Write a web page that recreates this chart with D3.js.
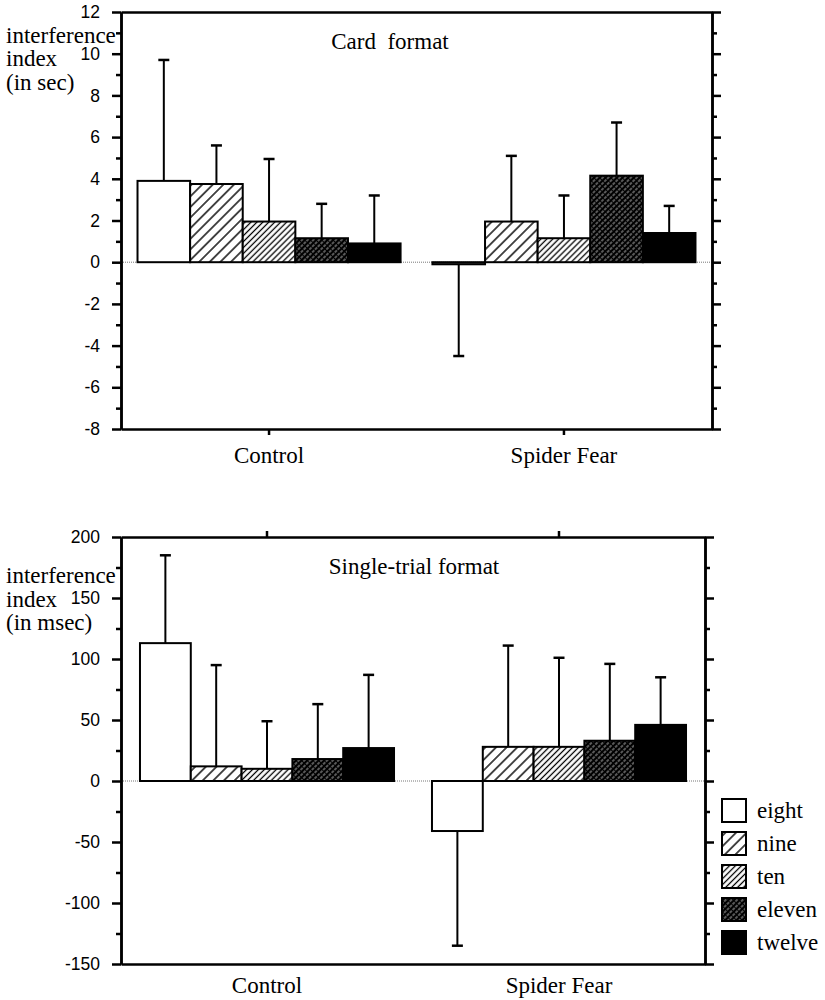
<!DOCTYPE html>
<html><head><meta charset="utf-8">
<script src="https://cdn.jsdelivr.net/npm/d3@7"></script>
<style>
body{margin:0;background:#fff;}
svg{display:block;}
</style></head>
<body>
<svg id="chart" width="825" height="1000"></svg>
<script>
// ---- data ----
const categories = ["Control", "Spider Fear"];
const series = ["eight", "nine", "ten", "eleven", "twelve"];

// Card format (sec): bar means and error-bar end values
const cardControlMean = [3.9, 3.75, 1.95, 1.15, 0.9];
const cardControlErrEnd = [9.7, 5.6, 4.95, 2.8, 3.2];
const cardSpiderMean = [-0.1, 1.95, 1.15, 4.15, 1.4];
const cardSpiderErrEnd = [-4.5, 5.1, 3.2, 6.7, 2.7];
const cardTicks = [-8, -6, -4, -2, 0, 2, 4, 6, 8, 10, 12];
const cardMinor = [-7, -5, -3, -1, 1, 3, 5, 7, 9, 11];

// Single-trial format (msec)
const trialControlMean = [113, 12, 10, 18, 27];
const trialControlErrEnd = [185, 95, 49, 63, 87];
const trialSpiderMean = [-41, 28, 28, 33, 46];
const trialSpiderErrEnd = [-135, 111, 101, 96, 85];
const trialTicks = [-150, -100, -50, 0, 50, 100, 150, 200];
const trialMinor = [-125, -75, -25, 25, 75, 125, 175];

const SERIF = "Liberation Serif";
const SANS = "Liberation Sans";

const svg = d3.select("#chart");

// ---- patterns ----
const defs = svg.append("defs");
function hatch(id, spacing, bg, fg, sw, dash) {
  const p = defs.append("pattern").attr("id", id)
    .attr("patternUnits", "userSpaceOnUse")
    .attr("width", spacing).attr("height", spacing)
    .attr("patternTransform", "rotate(45)");
  p.append("rect").attr("width", spacing).attr("height", spacing).attr("fill", bg);
  const l = p.append("line").attr("x1", spacing / 2).attr("x2", spacing / 2)
    .attr("y1", 0).attr("y2", spacing)
    .attr("stroke", fg).attr("stroke-width", sw);
  if (dash) l.attr("stroke-dasharray", dash);
}
hatch("pNine", 7.5, "#fff", "#000", 1.4);
hatch("pTen", 4.2, "#fff", "#000", 1.3);
hatch("pEleven", 4, "#000", "#fff", 0.7, "3,1");
const fills = ["#fff", "url(#pNine)", "url(#pTen)", "url(#pEleven)", "#000"];

function drawChart(cfg) {
  const g = svg.append("g");
  const y = d3.scaleLinear().domain(cfg.domain).range([cfg.bottom, cfg.top]);
  const x = d3.scaleBand().domain(categories).range([cfg.left, cfg.right])
    .paddingInner(cfg.pi).paddingOuter(cfg.po);
  const xs = d3.scaleBand().domain(series).range([0, x.bandwidth()]);

  // zero line
  g.append("line").attr("x1", cfg.left).attr("x2", cfg.right)
    .attr("y1", y(0)).attr("y2", y(0))
    .attr("stroke", "#777").attr("stroke-width", 1).attr("stroke-dasharray", "1,1");

  // bars
  cfg.groups.forEach((grp, gi) => {
    const cat = categories[gi];
    const gg = g.append("g").attr("transform", `translate(${x(cat)},0)`);
    series.forEach((s, i) => {
      const v = grp.mean[i], e = grp.err[i];
      const cx = xs(s) + xs.bandwidth() / 2;
      gg.append("line").attr("x1", cx).attr("x2", cx)
        .attr("y1", y(v)).attr("y2", y(e))
        .attr("stroke", "#000").attr("stroke-width", 2);
      gg.append("line").attr("x1", cx - 5.5).attr("x2", cx + 5.5)
        .attr("y1", y(e)).attr("y2", y(e))
        .attr("stroke", "#000").attr("stroke-width", 2.5);
      gg.append("rect")
        .attr("x", xs(s)).attr("width", xs.bandwidth())
        .attr("y", Math.min(y(v), y(0))).attr("height", Math.abs(y(v) - y(0)))
        .attr("fill", fills[i]).attr("stroke", "#000").attr("stroke-width", 2);
    });
  });

  const styleAxis = sel => {
    sel.attr("font-family", SANS);
    sel.selectAll("path.domain").attr("stroke", "#000").attr("stroke-width", 2.5);
    sel.selectAll(".tick line").attr("stroke", "#000").attr("stroke-width", 2.5);
    sel.selectAll(".tick text").attr("font-family", SANS).attr("font-size", 17.5).attr("fill", "#000");
  };
  // left axis
  g.append("g").attr("transform", `translate(${cfg.left},0)`)
    .call(d3.axisLeft(y).tickValues(cfg.ticks).tickSize(9).tickSizeOuter(0).tickPadding(12)
      .tickFormat(d => String(d)))
    .call(styleAxis);
  g.append("g").attr("transform", `translate(${cfg.left},0)`)
    .call(d3.axisLeft(y).tickValues(cfg.minor).tickSize(5).tickSizeOuter(0).tickFormat(""))
    .call(styleAxis);
  // right axis
  g.append("g").attr("transform", `translate(${cfg.right},0)`)
    .call(d3.axisRight(y).tickValues(cfg.ticks).tickSize(9).tickSizeOuter(0).tickFormat(""))
    .call(styleAxis);
  g.append("g").attr("transform", `translate(${cfg.right},0)`)
    .call(d3.axisRight(y).tickValues(cfg.minor).tickSize(5).tickSizeOuter(0).tickFormat(""))
    .call(styleAxis);
  // top & bottom borders
  g.append("g").attr("transform", `translate(0,${cfg.top})`)
    .call(d3.axisTop(x).tickSize(cfg.topTick).tickSizeOuter(0).tickFormat(""))
    .call(styleAxis);
  g.append("g").attr("transform", `translate(0,${cfg.bottom})`)
    .call(d3.axisBottom(x).tickSize(cfg.bottomTick).tickSizeOuter(0).tickFormat(""))
    .call(styleAxis);

  // category labels
  g.selectAll("text.cat").data(categories).join("text")
    .attr("class", "cat")
    .attr("x", d => x(d) + x.bandwidth() / 2)
    .attr("y", cfg.bottom + cfg.catOffset)
    .attr("text-anchor", "middle").attr("font-family", SERIF).attr("font-size", 23).text(d => d);

  // title
  g.append("text").attr("x", cfg.titleX).attr("y", cfg.titleY)
    .attr("text-anchor", "middle").attr("font-family", SERIF).attr("font-size", 23)
    .style("white-space", "pre").text(cfg.title);

  // y label
  cfg.ylabel.forEach((t, i) => {
    g.append("text").attr("x", 6).attr("y", cfg.ylabelY + i * 23.5)
      .attr("font-family", SERIF).attr("font-size", 23).text(t);
  });
}

drawChart({
  domain: [-8, 12], top: 12, bottom: 429, left: 121, right: 712,
  pi: 0.108, po: 0.056, ticks: cardTicks, minor: cardMinor,
  groups: [{mean: cardControlMean, err: cardControlErrEnd}, {mean: cardSpiderMean, err: cardSpiderErrEnd}],
  topTick: 0, bottomTick: 6, catOffset: 34,
  title: "Card  format", titleX: 390, titleY: 49,
  ylabel: ["interference", "index", "(in sec)"], ylabelY: 42.5
});

drawChart({
  domain: [-150, 200], top: 537, bottom: 964, left: 121, right: 705,
  pi: 0.13, po: 0.065, ticks: trialTicks, minor: trialMinor,
  groups: [{mean: trialControlMean, err: trialControlErrEnd}, {mean: trialSpiderMean, err: trialSpiderErrEnd}],
  topTick: 6, bottomTick: 0, catOffset: 29,
  title: "Single-trial format", titleX: 414, titleY: 574,
  ylabel: ["interference", "index", "(in msec)"], ylabelY: 583
});

// legend
const leg = svg.append("g").attr("transform", "translate(722,799)");
series.forEach((s, i) => {
  leg.append("rect").attr("x", 0).attr("y", i * 33).attr("width", 24).attr("height", 23)
    .attr("fill", fills[i]).attr("stroke", "#000").attr("stroke-width", 2);
  leg.append("text").attr("x", 35).attr("y", i * 33 + 19)
    .attr("font-family", SERIF).attr("font-size", 23).text(s);
});
</script>
</body></html>
